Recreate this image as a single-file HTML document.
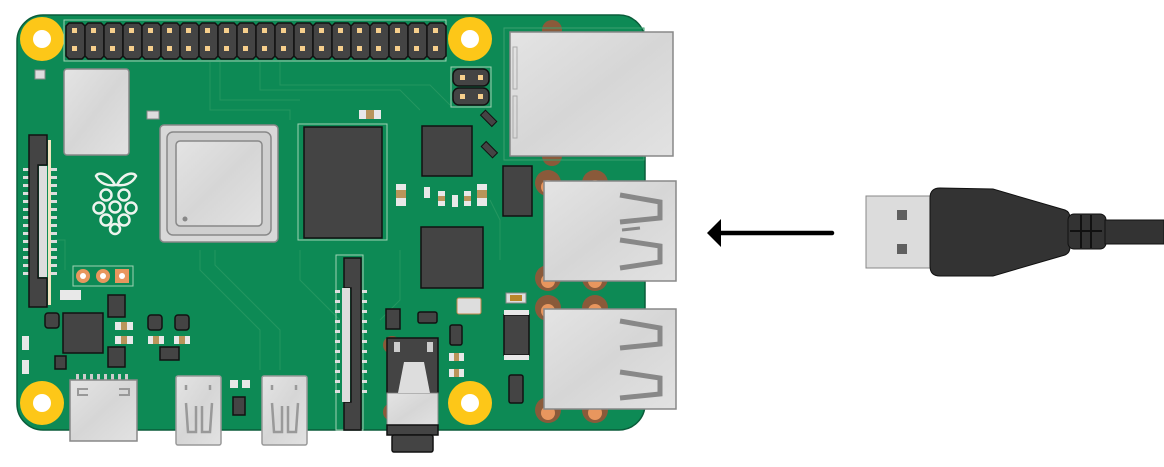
<!DOCTYPE html>
<html><head><meta charset="utf-8"><style>html,body{margin:0;padding:0;background:#fff}svg{display:block}</style></head><body>
<svg width="1164" height="467" viewBox="0 0 1164 467" xmlns="http://www.w3.org/2000/svg">
<defs>
<linearGradient id="sil" x1="0" y1="0" x2="1" y2="1">
<stop offset="0" stop-color="#e4e4e4"/><stop offset="0.5" stop-color="#d6d6d6"/><stop offset="1" stop-color="#e2e2e2"/></linearGradient>
</defs>
<!-- copper pads behind ports -->
<g fill="#8a5a3a">
<circle cx="552" cy="30" r="10"/><circle cx="552" cy="156" r="10"/>
<circle cx="548" cy="183" r="13"/><circle cx="595" cy="183" r="13"/>
<circle cx="548" cy="278" r="13"/><circle cx="595" cy="278" r="13"/>
<circle cx="548" cy="308" r="13"/><circle cx="595" cy="308" r="13"/>
<circle cx="548" cy="410" r="13"/><circle cx="595" cy="410" r="13"/>
</g>
<!-- board -->
<rect x="17" y="15" width="628" height="415" rx="26" fill="#0d8a55" stroke="#0a5c3a" stroke-width="1.5"/>
<!-- port copper on top -->
<g fill="#8a5a3a">
<circle cx="548" cy="183" r="13"/><circle cx="595" cy="183" r="13"/>
<circle cx="548" cy="278" r="13"/><circle cx="595" cy="278" r="13"/>
<circle cx="548" cy="308" r="13"/><circle cx="595" cy="308" r="13"/>
<circle cx="548" cy="410" r="13"/><circle cx="595" cy="410" r="13"/>
<circle cx="552" cy="156" r="10"/><circle cx="552" cy="30" r="10"/>
<circle cx="392" cy="345" r="9"/><circle cx="392" cy="412" r="9"/>
</g>
<g fill="#e8965e">
<circle cx="548" cy="187" r="7"/><circle cx="595" cy="187" r="7"/>
<circle cx="548" cy="281" r="7"/><circle cx="595" cy="281" r="7"/>
<circle cx="548" cy="311" r="7"/><circle cx="595" cy="311" r="7"/>
<circle cx="548" cy="413" r="7"/><circle cx="595" cy="413" r="7"/>
</g>
<!-- traces (faint) -->
<g stroke="#2a9a63" stroke-width="1" fill="none" opacity="0.8">
<path d="M210 62 L210 110 L290 110 L290 120"/><path d="M220 62 L220 100 L300 100"/>
<path d="M260 62 L260 90 L400 90 L420 110"/><path d="M280 62 L280 85 L430 85 L450 105"/>
<path d="M200 250 L200 270 L260 330 L260 370"/><path d="M215 250 L215 265 L280 330 L280 370"/>
<path d="M300 250 L300 280 L340 320"/><path d="M55 240 L65 240 L65 270"/>
<path d="M400 250 L400 300 L380 320"/><path d="M490 200 L500 220 L500 260"/>
</g>
<!-- mounting holes -->
<g fill="#fdc718"><circle cx="42" cy="39" r="22"/><circle cx="470" cy="39" r="22"/><circle cx="42" cy="403" r="22"/><circle cx="470" cy="403" r="22"/></g>
<g fill="#fff"><circle cx="42" cy="39" r="9"/><circle cx="470" cy="39" r="9"/><circle cx="42" cy="403" r="9"/><circle cx="470" cy="403" r="9"/></g>
<!-- GPIO -->
<rect x="64" y="20" width="382" height="41" fill="none" stroke="#9fd3b4" stroke-width="1"/>
<g id="pins">
<path d="M69 23 h13 l3 3 v30 l-3 3 h-13 l-3 -3 v-30 z" fill="#444" stroke="#111" stroke-width="1.5"/>
<rect x="72" y="28" width="5" height="5" fill="#f6cf8c"/><rect x="72" y="46" width="5" height="5" fill="#f6cf8c"/>
</g>
<use href="#pins" x="19"/><use href="#pins" x="38"/><use href="#pins" x="57"/><use href="#pins" x="76"/>
<use href="#pins" x="95"/><use href="#pins" x="114"/><use href="#pins" x="133"/><use href="#pins" x="152"/>
<use href="#pins" x="171"/><use href="#pins" x="190"/><use href="#pins" x="209"/><use href="#pins" x="228"/>
<use href="#pins" x="247"/><use href="#pins" x="266"/><use href="#pins" x="285"/><use href="#pins" x="304"/>
<use href="#pins" x="323"/><use href="#pins" x="342"/><use href="#pins" x="361"/>
<!-- jumper -->
<rect x="451" y="67" width="40" height="40" fill="none" stroke="#9fd3b4"/>
<rect x="453" y="69" width="36" height="17" rx="6" fill="#444" stroke="#111" stroke-width="1.5"/>
<rect x="453" y="88" width="36" height="17" rx="6" fill="#444" stroke="#111" stroke-width="1.5"/>
<g fill="#f6cf8c"><rect x="460" y="75" width="5" height="5"/><rect x="478" y="75" width="5" height="5"/><rect x="460" y="94" width="5" height="5"/><rect x="478" y="94" width="5" height="5"/></g>
<!-- left silver chip -->
<rect x="35" y="70" width="10" height="9" fill="#ddd" stroke="#888"/>
<rect x="64" y="69" width="65" height="86" rx="3" fill="url(#sil)" stroke="#888" stroke-width="1.5"/>
<!-- display connector -->
<g fill="#ddd"><rect x="23" y="168" width="6" height="3"/><rect x="23" y="176" width="6" height="3"/><rect x="23" y="184" width="6" height="3"/><rect x="23" y="192" width="6" height="3"/><rect x="23" y="200" width="6" height="3"/><rect x="23" y="208" width="6" height="3"/><rect x="23" y="216" width="6" height="3"/><rect x="23" y="224" width="6" height="3"/><rect x="23" y="232" width="6" height="3"/><rect x="23" y="240" width="6" height="3"/><rect x="23" y="248" width="6" height="3"/><rect x="23" y="256" width="6" height="3"/><rect x="23" y="264" width="6" height="3"/><rect x="23" y="272" width="6" height="3"/>
<rect x="51" y="168" width="6" height="3"/><rect x="51" y="176" width="6" height="3"/><rect x="51" y="184" width="6" height="3"/><rect x="51" y="192" width="6" height="3"/><rect x="51" y="200" width="6" height="3"/><rect x="51" y="208" width="6" height="3"/><rect x="51" y="216" width="6" height="3"/><rect x="51" y="224" width="6" height="3"/><rect x="51" y="232" width="6" height="3"/><rect x="51" y="240" width="6" height="3"/><rect x="51" y="248" width="6" height="3"/><rect x="51" y="256" width="6" height="3"/><rect x="51" y="264" width="6" height="3"/><rect x="51" y="272" width="6" height="3"/></g>
<rect x="48" y="140" width="3" height="165" fill="#f0e6c0"/>
<path d="M29 135 h18 v30 h-9 v113 h9 v29 h-18 z" fill="#444" stroke="#111" stroke-width="1.5"/>
<rect x="39" y="166" width="8" height="111" fill="#ddd"/>
<!-- raspberry logo -->
<g fill="none" stroke="#eef4ee" stroke-width="2.5">
<path d="M115 185 C108 172 98 172 96 176 C100 184 108 186 115 185 Z"/>
<path d="M117 185 C124 172 134 172 136 176 C132 184 124 186 117 185 Z"/>
<circle cx="106" cy="195" r="5.5"/><circle cx="124" cy="195" r="5.5"/>
<circle cx="99" cy="208" r="5.5"/><circle cx="115" cy="207" r="5.5"/><circle cx="131" cy="208" r="5.5"/>
<circle cx="106" cy="220" r="5.5"/><circle cx="124" cy="220" r="5.5"/><circle cx="115" cy="229" r="5"/>
</g>
<!-- SoC -->
<rect x="160" y="125" width="118" height="117" rx="4" fill="#d8d8d8" stroke="#888" stroke-width="1.5"/>
<rect x="167" y="132" width="104" height="103" rx="6" fill="#cfcfcf" stroke="#888" stroke-width="1.5"/>
<rect x="176" y="141" width="86" height="85" rx="4" fill="url(#sil)" stroke="#888" stroke-width="1.5"/>
<circle cx="185" cy="219" r="2.5" fill="#888"/>
<rect x="147" y="111" width="12" height="8" fill="#ddd" stroke="#888"/>
<!-- RAM -->
<rect x="298" y="124" width="89" height="116" fill="none" stroke="#9fd3b4"/>
<rect x="304" y="127" width="78" height="111" fill="#444" stroke="#111" stroke-width="1.5"/>
<rect x="359" y="110" width="22" height="9" fill="#e8e8e8"/><rect x="366" y="110" width="8" height="9" fill="#b8955a"/>
<!-- chips -->
<rect x="422" y="126" width="50" height="50" fill="#444" stroke="#111" stroke-width="1.5"/>
<rect x="421" y="227" width="62" height="61" fill="#444" stroke="#111" stroke-width="1.5"/>
<rect x="481" y="115" width="16" height="7" transform="rotate(45 489 118)" fill="#444" stroke="#111"/>
<rect x="481" y="146" width="16" height="7" transform="rotate(45 489 150)" fill="#444" stroke="#111"/>
<rect x="503" y="166" width="29" height="50" fill="#444" stroke="#111" stroke-width="1.5"/>
<!-- small passives -->
<g fill="#e8e8e8"><rect x="396" y="184" width="10" height="22"/><rect x="477" y="184" width="10" height="22"/><rect x="438" y="191" width="7" height="15"/><rect x="464" y="191" width="7" height="15"/><rect x="452" y="195" width="6" height="12"/><rect x="424" y="187" width="6" height="11"/></g>
<g fill="#b8955a"><rect x="396" y="190" width="10" height="8"/><rect x="477" y="190" width="10" height="8"/><rect x="438" y="196" width="7" height="5"/><rect x="464" y="196" width="7" height="5"/></g>
<!-- Ethernet -->
<rect x="504" y="28" width="140" height="132" fill="none" stroke="#3aa06e"/>
<rect x="510" y="32" width="163" height="124" fill="url(#sil)" stroke="#888" stroke-width="1.5"/>
<rect x="513" y="47" width="4" height="42" fill="none" stroke="#aaa"/><rect x="513" y="96" width="4" height="42" fill="none" stroke="#aaa"/>
<!-- USB ports -->
<g>
<rect x="544" y="181" width="132" height="100" fill="url(#sil)" stroke="#888" stroke-width="1.5"/>
<path d="M620 195 L660 202 L660 218 L620 222" fill="none" stroke="#888" stroke-width="5"/>
<path d="M622 230 L640 228" fill="none" stroke="#888" stroke-width="3"/>
<path d="M620 240 L660 246 L660 262 L620 268" fill="none" stroke="#888" stroke-width="5"/>
<rect x="544" y="309" width="132" height="100" fill="url(#sil)" stroke="#888" stroke-width="1.5"/>
<path d="M620 321 L660 328 L660 344 L620 348" fill="none" stroke="#888" stroke-width="5"/>
<path d="M620 372 L660 378 L660 394 L620 398" fill="none" stroke="#888" stroke-width="5"/>
</g>
<!-- lower-right components -->
<rect x="504" y="315" width="25" height="40" fill="#444" stroke="#111" stroke-width="1.5"/>
<rect x="504" y="310" width="25" height="5" fill="#e8e8e8"/><rect x="504" y="355" width="25" height="5" fill="#e8e8e8"/>
<rect x="509" y="375" width="14" height="28" rx="2" fill="#444" stroke="#111" stroke-width="1.5"/>
<rect x="506" y="293" width="20" height="10" fill="#ddd" stroke="#888"/><rect x="510" y="295" width="12" height="6" fill="#b8862a"/>
<rect x="457" y="298" width="24" height="16" rx="2" fill="#ddd" stroke="#c0884a"/>
<rect x="450" y="325" width="12" height="20" rx="2" fill="#444" stroke="#111" stroke-width="1.5"/>
<rect x="418" y="312" width="19" height="11" rx="2" fill="#444" stroke="#111" stroke-width="1.5"/>
<rect x="386" y="309" width="14" height="20" fill="#444" stroke="#111" stroke-width="1.5"/>
<g fill="#e8e8e8"><rect x="449" y="353" width="15" height="8"/><rect x="449" y="369" width="15" height="8"/></g>
<g fill="#b8955a"><rect x="454" y="353" width="5" height="8"/><rect x="454" y="369" width="5" height="8"/></g>
<!-- camera connector -->
<rect x="336" y="255" width="27" height="175" fill="none" stroke="#9fd3b4"/>
<g fill="#ddd"><rect x="335" y="290" width="5" height="3"/><rect x="335" y="300" width="5" height="3"/><rect x="335" y="310" width="5" height="3"/><rect x="335" y="320" width="5" height="3"/><rect x="335" y="330" width="5" height="3"/><rect x="335" y="340" width="5" height="3"/><rect x="335" y="350" width="5" height="3"/><rect x="335" y="360" width="5" height="3"/><rect x="335" y="370" width="5" height="3"/><rect x="335" y="380" width="5" height="3"/><rect x="335" y="390" width="5" height="3"/>
<rect x="362" y="290" width="5" height="3"/><rect x="362" y="300" width="5" height="3"/><rect x="362" y="310" width="5" height="3"/><rect x="362" y="320" width="5" height="3"/><rect x="362" y="330" width="5" height="3"/><rect x="362" y="340" width="5" height="3"/><rect x="362" y="350" width="5" height="3"/><rect x="362" y="360" width="5" height="3"/><rect x="362" y="370" width="5" height="3"/><rect x="362" y="380" width="5" height="3"/><rect x="362" y="390" width="5" height="3"/></g>
<path d="M344 258 h17 v172 h-17 v-28 h7 v-114 h-7 z" fill="#444" stroke="#111" stroke-width="1.5"/>
<rect x="342" y="288" width="8" height="114" fill="#ddd"/>
<!-- audio jack -->
<rect x="387" y="338" width="51" height="55" fill="#444" stroke="#111" stroke-width="1.5"/>
<rect x="387" y="393" width="51" height="35" fill="url(#sil)" stroke="#888"/>
<path d="M398 393 L404 362 L424 362 L430 393 Z" fill="#ddd"/>
<rect x="387" y="425" width="51" height="10" fill="#444" stroke="#111" stroke-width="1.5"/>
<rect x="392" y="435" width="41" height="17" rx="2" fill="#444" stroke="#111" stroke-width="1.5"/>
<g fill="#ccc"><rect x="394" y="342" width="6" height="10"/><rect x="427" y="342" width="6" height="10"/></g>
<!-- left-bottom components -->
<rect x="73" y="266" width="60" height="20" fill="none" stroke="#9fd3b4"/>
<g fill="#e8965e"><circle cx="83" cy="276" r="7"/><circle cx="103" cy="276" r="7"/><rect x="115" y="269" width="14" height="14"/></g>
<g fill="#fff"><circle cx="83" cy="276" r="3"/><circle cx="103" cy="276" r="3"/><circle cx="122" cy="276" r="3"/></g>
<rect x="63" y="313" width="40" height="40" fill="#444" stroke="#111" stroke-width="1.5"/>
<rect x="108" y="295" width="17" height="22" fill="#444" stroke="#111" stroke-width="1.5"/>
<rect x="108" y="347" width="17" height="20" fill="#444" stroke="#111" stroke-width="1.5"/>
<rect x="45" y="313" width="14" height="15" rx="3" fill="#444" stroke="#111" stroke-width="1.5"/>
<rect x="55" y="356" width="11" height="13" fill="#444" stroke="#111" stroke-width="1.5"/>
<rect x="148" y="315" width="14" height="15" rx="3" fill="#444" stroke="#111" stroke-width="1.5"/>
<rect x="175" y="315" width="14" height="15" rx="3" fill="#444" stroke="#111" stroke-width="1.5"/>
<rect x="160" y="347" width="19" height="13" fill="#444" stroke="#111" stroke-width="1.5"/>
<rect x="233" y="397" width="12" height="18" fill="#444" stroke="#111" stroke-width="1.5"/>
<g fill="#e8e8e8"><rect x="60" y="290" width="21" height="10"/><rect x="115" y="322" width="18" height="8"/><rect x="115" y="336" width="18" height="8"/><rect x="148" y="336" width="16" height="8"/><rect x="174" y="336" width="16" height="8"/><rect x="22" y="336" width="7" height="14"/><rect x="22" y="360" width="7" height="14"/><rect x="230" y="380" width="8" height="8"/><rect x="242" y="380" width="8" height="8"/></g>
<g fill="#b8955a"><rect x="121" y="322" width="6" height="8"/><rect x="121" y="336" width="6" height="8"/><rect x="153" y="336" width="6" height="8"/><rect x="179" y="336" width="6" height="8"/></g>
<!-- USB-C and micro HDMI -->
<g fill="#ccc"><rect x="76" y="374" width="3" height="6"/><rect x="83" y="374" width="3" height="6"/><rect x="90" y="374" width="3" height="6"/><rect x="97" y="374" width="3" height="6"/><rect x="104" y="374" width="3" height="6"/><rect x="111" y="374" width="3" height="6"/><rect x="118" y="374" width="3" height="6"/><rect x="125" y="374" width="3" height="6"/></g>
<rect x="70" y="380" width="67" height="61" fill="url(#sil)" stroke="#888" stroke-width="1.5"/>
<path d="M88 389 h-10 v6 h10 M119 389 h10 v6 h-10" fill="none" stroke="#999" stroke-width="2"/>
<rect x="176" y="376" width="45" height="69" rx="2" fill="url(#sil)" stroke="#999" stroke-width="1.5"/>
<path d="M186 385 v5 M210 385 v5 M186 403 L188 432 L196 432 L196 406 M202 406 L202 432 L210 432 L212 403" fill="none" stroke="#999" stroke-width="2.5"/>
<rect x="262" y="376" width="45" height="69" rx="2" fill="url(#sil)" stroke="#999" stroke-width="1.5"/>
<path d="M272 385 v5 M296 385 v5 M272 403 L274 432 L282 432 L282 406 M288 406 L288 432 L296 432 L298 403" fill="none" stroke="#999" stroke-width="2.5"/>
<!-- arrow -->
<line x1="718" y1="233" x2="832" y2="233" stroke="#000" stroke-width="4.5" stroke-linecap="round"/>
<path d="M707 233 L721 219 L721 247 Z" fill="#000"/>
<!-- USB plug -->
<rect x="866" y="196" width="66" height="72" fill="#dcdcdc" stroke="#888" stroke-width="1"/>
<rect x="897" y="210" width="10" height="10" fill="#606060"/><rect x="897" y="244" width="10" height="10" fill="#606060"/>
<path d="M940 188 L993 189 L1065 210 Q1070 212 1070 218 L1070 247 Q1070 253 1065 255 L993 276 L940 276 Q930 276 930 266 L930 198 Q930 188 940 188 Z" fill="#333" stroke="#111" stroke-width="1"/>
<rect x="1068" y="214" width="38" height="35" rx="6" fill="#333" stroke="#111" stroke-width="1"/>
<rect x="1105" y="220" width="59" height="24" fill="#333" stroke="#111" stroke-width="1"/>
<g stroke="#111" stroke-width="2"><line x1="1081" y1="215" x2="1081" y2="248"/><line x1="1091" y1="215" x2="1091" y2="248"/><line x1="1070" y1="231" x2="1102" y2="231"/></g>
</svg>
</body></html>
